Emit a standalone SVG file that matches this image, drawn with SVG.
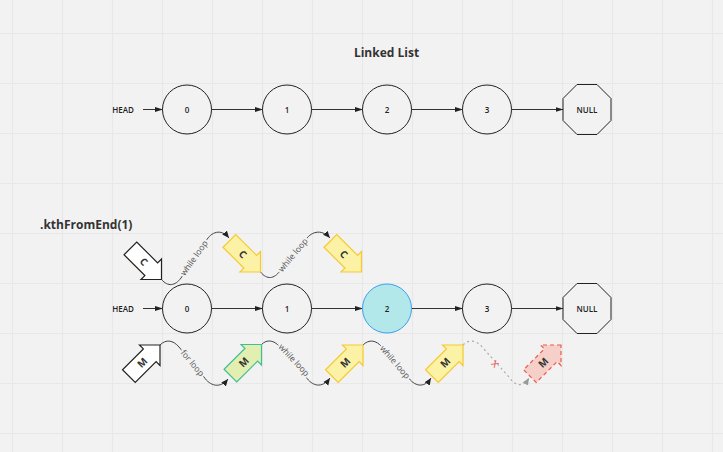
<svg xmlns="http://www.w3.org/2000/svg" width="723" height="452" viewBox="0 0 723 452">
<defs>
<style>
.grid line{stroke:#e8e8e8;stroke-width:1.2}
.node{fill:none;stroke:#222;stroke-width:1}
.lbl{font-family:"Open Sans","Liberation Sans",sans-serif;font-size:8px;font-weight:600;fill:#222;text-anchor:middle}
.title{font-family:"Open Sans","Liberation Sans",sans-serif;font-size:12px;font-weight:700;fill:#333}
.link{stroke:#333;stroke-width:1;fill:none;marker-end:url(#ah)}
.curve{stroke:#444;stroke-width:1;fill:none;marker-end:url(#ah2)}
.dash{stroke:#aaa;stroke-width:1.2;fill:none;stroke-dasharray:2 3;marker-end:url(#ah3)}
.cl{font-family:"Open Sans","Liberation Sans",sans-serif;font-size:8.5px;fill:#555;text-anchor:middle;paint-order:stroke;stroke:#f2f2f2;stroke-width:4;stroke-linejoin:round}
.ptr{stroke-width:1.2;stroke-linejoin:miter}
.w{fill:#fff;stroke:#222}
.y{fill:#fbf2a6;stroke:#f6c930}
.g{fill:#e3eeb1;stroke:#3dbf97}
.r{fill:#f6d0c8;stroke:#ec5b4a;stroke-dasharray:4 3}
.pl{font-family:"Open Sans","Liberation Sans",sans-serif;font-size:10px;font-weight:700;fill:#333;text-anchor:middle}
</style>
<marker id="ah" markerWidth="8" markerHeight="6" refX="7.5" refY="3" orient="auto" markerUnits="userSpaceOnUse"><path d="M0,0.5 L8,3 L0,5.5 z" fill="#222"/></marker>
<marker id="ah2" markerWidth="8" markerHeight="7" refX="7" refY="3.5" orient="auto" markerUnits="userSpaceOnUse"><path d="M0,0.5 L7,3.5 L0,6.5 z" fill="#222"/></marker>
<marker id="ah3" markerWidth="8" markerHeight="7" refX="7" refY="3.5" orient="auto" markerUnits="userSpaceOnUse"><path d="M0,0.5 L7,3.5 L0,6.5 z" fill="#999"/></marker>
<path id="arrowShape" d="M0,0 L-14.5,-14.5 L-14.5,-9 L-44,-9 L-44,9 L-14.5,9 L-14.5,14.5 Z"/>
</defs>
<rect width="723" height="452" fill="#f2f2f2"/>
<g class="grid">
<line x1="12.5" y1="0" x2="12.5" y2="452"/><line x1="62.5" y1="0" x2="62.5" y2="452"/><line x1="112.5" y1="0" x2="112.5" y2="452"/><line x1="162.5" y1="0" x2="162.5" y2="452"/><line x1="212.5" y1="0" x2="212.5" y2="452"/><line x1="262.5" y1="0" x2="262.5" y2="452"/><line x1="312.5" y1="0" x2="312.5" y2="452"/><line x1="362.5" y1="0" x2="362.5" y2="452"/><line x1="412.5" y1="0" x2="412.5" y2="452"/><line x1="462.5" y1="0" x2="462.5" y2="452"/><line x1="512.5" y1="0" x2="512.5" y2="452"/><line x1="562.5" y1="0" x2="562.5" y2="452"/><line x1="612.5" y1="0" x2="612.5" y2="452"/><line x1="662.5" y1="0" x2="662.5" y2="452"/><line x1="712.5" y1="0" x2="712.5" y2="452"/>
<line x1="0" y1="33.5" x2="723" y2="33.5"/><line x1="0" y1="83.5" x2="723" y2="83.5"/><line x1="0" y1="133.5" x2="723" y2="133.5"/><line x1="0" y1="183.5" x2="723" y2="183.5"/><line x1="0" y1="233.5" x2="723" y2="233.5"/><line x1="0" y1="283.5" x2="723" y2="283.5"/><line x1="0" y1="333.5" x2="723" y2="333.5"/><line x1="0" y1="383.5" x2="723" y2="383.5"/><line x1="0" y1="433.5" x2="723" y2="433.5"/>
</g>
<text class="title" x="386.5" y="56.5" text-anchor="middle">Linked List</text>
<text class="title" x="40" y="229">.kthFromEnd(1)</text>
<g id="connectors">
<line class="link" x1="143" y1="109.5" x2="162.5" y2="109.5"/>
<line class="link" x1="211.5" y1="109.5" x2="262.5" y2="109.5"/>
<line class="link" x1="311.5" y1="109.5" x2="362.5" y2="109.5"/>
<line class="link" x1="411.5" y1="109.5" x2="462.5" y2="109.5"/>
<line class="link" x1="511.5" y1="109.5" x2="563" y2="109.5"/>
<line class="link" x1="143" y1="308.5" x2="162.5" y2="308.5"/>
<line class="link" x1="211.5" y1="308.5" x2="262.5" y2="308.5"/>
<line class="link" x1="311.5" y1="308.5" x2="362.5" y2="308.5"/>
<line class="link" x1="411.5" y1="308.5" x2="462.5" y2="308.5"/>
<line class="link" x1="511.5" y1="308.5" x2="563" y2="308.5"/>
<path class="curve" d="M161.5,279.5 C168,287 175,286 181,278 L206,241 C211,232 221,228 229,238"/>
<path class="curve" d="M260.5,272 C267,280 274,279 280,271 L305,241 C310,232 321,228 330,238"/>
<path class="curve" d="M160,345 C166,339 173,340 179,347 L204,377 C210,386 220,389 228,379"/>
<path class="curve" d="M261.5,344.5 C267,339 274,340 280,347 L306,377 C312,386 322,389 330,378"/>
<path class="curve" d="M363,345 C369,339 376,340 382,347 L408,377 C414,386 424,389 431,378"/>
<path class="dash" d="M463,345 C469,339 477,340 483,348 L509,377 C515,386 523,388 529,378"/>
<text class="cl" transform="translate(194,258) rotate(-55)" y="3">while loop</text>
<text class="cl" transform="translate(293,255) rotate(-50)" y="3">while loop</text>
<text class="cl" transform="translate(192.5,363) rotate(50)" y="3">for loop</text>
<text class="cl" transform="translate(294,360) rotate(47)" y="3">while loop</text>
<text class="cl" transform="translate(395,362) rotate(49)" y="3">while loop</text>
<text transform="translate(495.5,363.5) rotate(48)" y="4" font-family="'Open Sans','Liberation Sans',sans-serif" font-size="12" fill="#ec5b4a" text-anchor="middle">x</text>
</g>
<g id="head1"><text class="lbl" x="123" y="112.5">HEAD</text></g>
<g id="n0"><circle class="node" cx="187" cy="109.5" r="24.5"/><text class="lbl" x="187" y="112.5">0</text></g>
<g id="n1"><circle class="node" cx="287" cy="109.5" r="24.5"/><text class="lbl" x="287" y="112.5">1</text></g>
<g id="n2"><circle class="node" cx="387" cy="109.5" r="24.5"/><text class="lbl" x="387" y="112.5">2</text></g>
<g id="n3"><circle class="node" cx="487" cy="109.5" r="24.5"/><text class="lbl" x="487" y="112.5">3</text></g>
<g id="null1"><polygon class="node" points="577,84.5 597,84.5 611,98.5 611,120.5 597,134.5 577,134.5 563,120.5 563,98.5"/><text class="lbl" x="587" y="112.5">NULL</text></g>
<g id="head2"><text class="lbl" x="123" y="311.5">HEAD</text></g>
<g id="m0"><circle class="node" cx="187" cy="308.5" r="24.5"/><text class="lbl" x="187" y="311.5">0</text></g>
<g id="m1"><circle class="node" cx="287" cy="308.5" r="24.5"/><text class="lbl" x="287" y="311.5">1</text></g>
<g id="m2"><circle cx="387" cy="308.5" r="24.5" fill="#b2e8ea" stroke="#3c9ff0" stroke-width="1"/><text class="lbl" x="387" y="311.5">2</text></g>
<g id="m3"><circle class="node" cx="487" cy="308.5" r="24.5"/><text class="lbl" x="487" y="311.5">3</text></g>
<g id="null2"><polygon class="node" points="577,283.5 597,283.5 611,297.5 611,319.5 597,333.5 577,333.5 563,319.5 563,297.5"/><text class="lbl" x="587" y="311.5">NULL</text></g>
<g id="c0" transform="translate(161.5,279.5) rotate(45)"><use href="#arrowShape" class="ptr w"/><text class="pl" x="-25" y="3.5">C</text></g>
<g id="c1" transform="translate(260.5,272) rotate(45)"><use href="#arrowShape" class="ptr y"/><text class="pl" x="-25" y="3.5">C</text></g>
<g id="c2" transform="translate(361.5,272) rotate(45)"><use href="#arrowShape" class="ptr y"/><text class="pl" x="-25" y="3.5">C</text></g>
<g id="p0" transform="translate(160,345) rotate(-45)"><use href="#arrowShape" class="ptr w"/><text class="pl" x="-25" y="3.5">M</text></g>
<g id="p1" transform="translate(261.5,344.5) rotate(-45)"><use href="#arrowShape" class="ptr g"/><text class="pl" x="-25" y="3.5">M</text></g>
<g id="p2" transform="translate(363,345) rotate(-45)"><use href="#arrowShape" class="ptr y"/><text class="pl" x="-25" y="3.5">M</text></g>
<g id="p3" transform="translate(463,345) rotate(-45)"><use href="#arrowShape" class="ptr y"/><text class="pl" x="-25" y="3.5">M</text></g>
<g id="p4" transform="translate(561,345) rotate(-45)"><use href="#arrowShape" class="ptr r"/><text class="pl" x="-25" y="3.5">M</text></g>
</svg>
